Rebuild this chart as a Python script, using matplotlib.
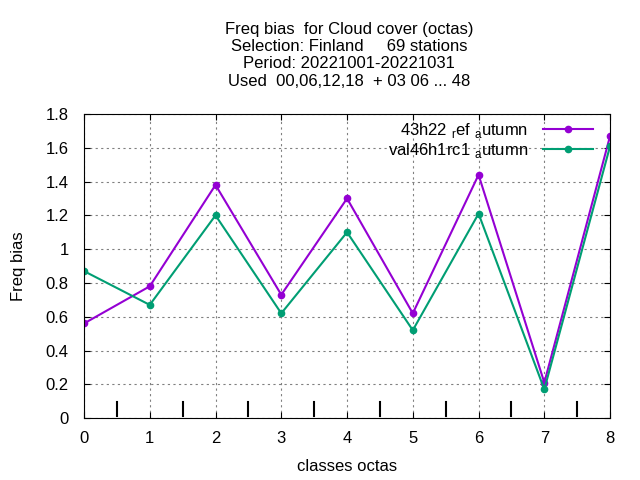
import matplotlib
matplotlib.use("Agg")
import matplotlib.pyplot as plt

plt.rcParams['font.family'] = ['Liberation Sans', 'DejaVu Sans']
plt.rcParams['mathtext.fontset'] = 'custom'
plt.rcParams['mathtext.rm'] = 'Liberation Sans'

classes = [0, 1, 2, 3, 4, 5, 6, 7, 8]
ref_autumn = [0.56, 0.78, 1.38, 0.73, 1.30, 0.62, 1.44, 0.21, 1.67]
val_autumn = [0.87, 0.67, 1.20, 0.62, 1.10, 0.52, 1.21, 0.17, 1.61]
half_ticks = [0.5, 1.5, 2.5, 3.5, 4.5, 5.5, 6.5, 7.5]

title = ("Freq bias  for Cloud cover (octas)\n"
         "Selection: Finland     69 stations\n"
         "Period: 20221001-20221031\n"
         "Used  00,06,12,18  + 03 06 ... 48")

fig = plt.figure(figsize=(6.4, 4.8), dpi=100)
ax = fig.add_axes([0.13125, 0.129, 0.822, 0.6335])

ax.plot(classes, ref_autumn, color='#9400d3', marker='o', markersize=4.5,
        linewidth=1.5, label=r'43h22 $_{\rm r}$ef $_{\rm a}$utumn')
ax.plot(classes, val_autumn, color='#009e73', marker='o', markersize=4.5,
        linewidth=1.5, label=r'val46h1rc1 $_{\rm a}$utumn')

# short black bars between classes, near the bottom
for x in half_ticks:
    ax.plot([x, x], [0.012, 0.094], color='black', linewidth=1.5)

ax.set_xlim(0, 8)
ax.set_ylim(0, 1.8)
ax.set_xticks(classes)
ax.set_yticks([0, 0.2, 0.4, 0.6, 0.8, 1, 1.2, 1.4, 1.6, 1.8])
ax.set_yticklabels(['0', '0.2', '0.4', '0.6', '0.8', '1', '1.2', '1.4', '1.6', '1.8'])
ax.tick_params(direction='in', length=4, labelsize=12, top=True, right=True)
ax.tick_params(axis='y', pad=11)
ax.tick_params(axis='x', pad=9)
ax.grid(color='gray', linestyle=(0, (2, 3)), linewidth=0.8)

ax.set_xlabel('classes octas', fontsize=12, labelpad=10)
ax.set_ylabel('Freq bias', fontsize=12, labelpad=14)
fig.text(0.545, 0.815, title, ha='center', va='bottom', fontsize=12,
         linespacing=1.2)

leg = ax.legend(loc='upper right', frameon=False, fontsize=12,
                markerfirst=False, handlelength=3.0, borderaxespad=0.0,
                labelspacing=0.1, handletextpad=0.9,
                bbox_to_anchor=(0.98, 1.0))
for t in leg.get_texts():
    t.set_ha('right')

fig.savefig('out.png', dpi=100)
